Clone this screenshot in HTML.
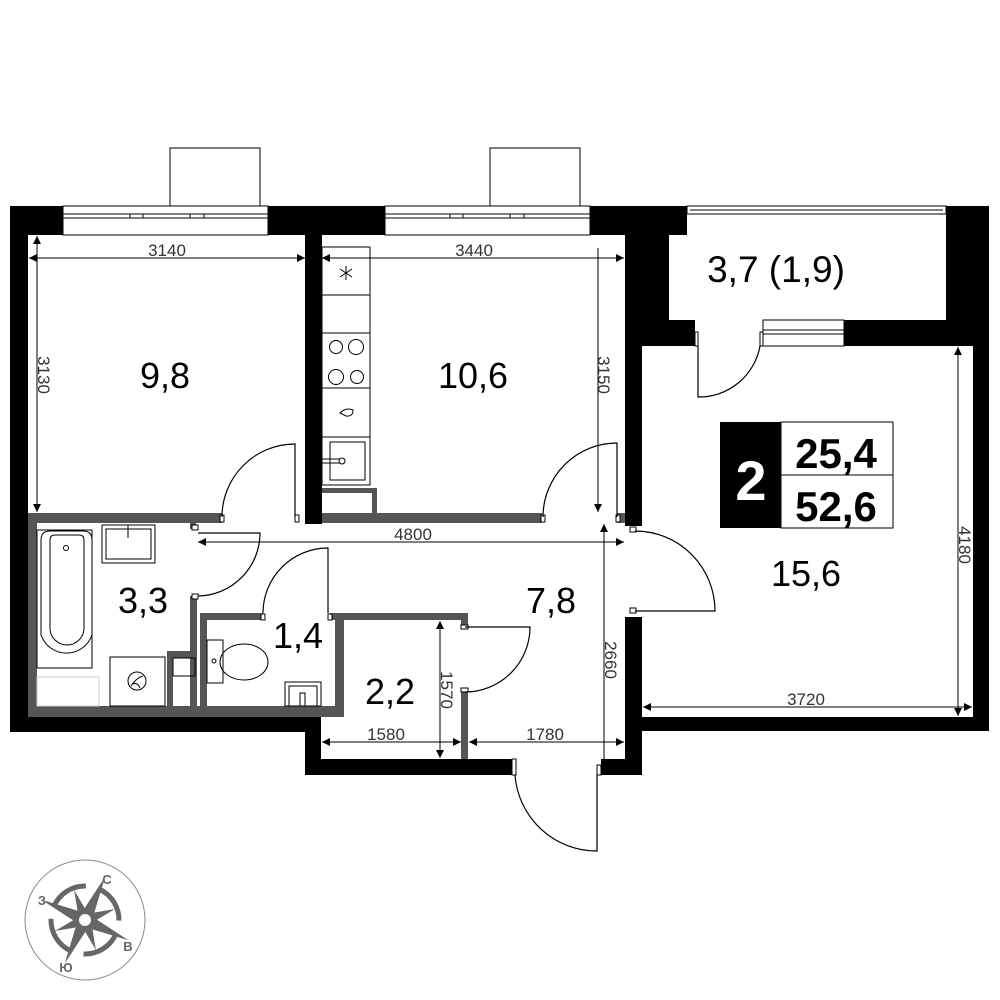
<!DOCTYPE html>
<html><head><meta charset="utf-8"><style>
html,body{margin:0;padding:0;background:#fff}
svg{display:block}
text{font-family:"Liberation Sans",sans-serif}
</style></head><body>
<svg width="1000" height="1000" viewBox="0 0 1000 1000" xmlns="http://www.w3.org/2000/svg">
<defs>
<marker id="a" viewBox="0 0 10 10" refX="10" refY="5" markerWidth="13" markerHeight="8" orient="auto-start-reverse" markerUnits="userSpaceOnUse"><path d="M0,0 L10,5 L0,10 z" fill="#000"/></marker>
</defs>
<g fill="none" stroke="#000" stroke-width="1">
<rect x="170" y="148" width="90" height="58"/>
<rect x="490" y="148" width="90" height="58"/>
<rect x="63" y="206" width="205" height="29"/>
<line x1="63" y1="214" x2="268" y2="214"/><line x1="63" y1="218" x2="268" y2="218"/>
<line x1="130" y1="214" x2="130" y2="218"/><line x1="143" y1="214" x2="143" y2="218"/><line x1="190" y1="214" x2="190" y2="218"/><line x1="204" y1="214" x2="204" y2="218"/>
<rect x="385" y="206" width="205" height="29"/>
<line x1="385" y1="214" x2="590" y2="214"/><line x1="385" y1="218" x2="590" y2="218"/>
<line x1="450" y1="214" x2="450" y2="218"/><line x1="463" y1="214" x2="463" y2="218"/><line x1="510" y1="214" x2="510" y2="218"/><line x1="524" y1="214" x2="524" y2="218"/>
<rect x="687" y="206" width="259" height="8"/>
<line x1="690" y1="210" x2="943" y2="210"/>
<rect x="763" y="320" width="81" height="26"/>
<line x1="763" y1="330" x2="844" y2="330"/><line x1="763" y1="334" x2="844" y2="334"/>
</g>
<g fill="#000">
<rect x="10" y="206" width="53" height="29"/>
<rect x="10" y="206" width="18" height="526"/>
<rect x="268" y="206" width="117" height="29"/>
<rect x="305" y="206" width="17" height="318"/>
<rect x="590" y="206" width="97" height="29"/>
<rect x="625" y="206" width="44" height="114"/>
<rect x="625" y="320" width="70" height="26"/>
<rect x="625" y="320" width="17" height="206"/>
<rect x="844" y="320" width="145" height="26"/>
<rect x="946" y="206" width="43" height="140"/>
<rect x="973" y="206" width="16" height="525"/>
<rect x="625" y="717" width="364" height="14"/>
<rect x="625" y="617" width="17" height="158"/>
<rect x="601" y="759" width="41" height="16"/>
<rect x="305" y="759" width="207" height="16"/>
<rect x="305" y="717" width="16" height="58"/>
<rect x="10" y="717" width="311" height="15"/>
</g>
<g fill="#555">
<rect x="28" y="513" width="194" height="10"/>
<rect x="190" y="513" width="6" height="16"/>
<rect x="322" y="513" width="220" height="10"/>
<path d="M322 488 H377 V513 H372 V493 H322 Z"/>
<rect x="617" y="513" width="8" height="10"/>
<rect x="28" y="706" width="316" height="11"/>
<rect x="28" y="513" width="9" height="204"/>
<rect x="190" y="596" width="7" height="110"/>
<rect x="167" y="651" width="30" height="7"/>
<rect x="167" y="651" width="6" height="55"/>
<rect x="200" y="614" width="7" height="92"/>
<rect x="200" y="613" width="63" height="7"/>
<rect x="330" y="613" width="137" height="7"/>
<rect x="335" y="613" width="9" height="104"/>
<rect x="461" y="613" width="7" height="14"/>
<rect x="461" y="691" width="7" height="68"/>
</g>
<g fill="#fff" stroke="#000" stroke-width="1">
<rect x="220" y="515" width="4" height="7"/><rect x="295" y="515" width="4" height="7"/>
<rect x="541" y="515" width="4" height="7"/><rect x="616" y="515" width="4" height="7"/>
<rect x="192" y="525" width="6" height="5"/><rect x="192" y="594" width="6" height="5"/>
<rect x="261" y="614" width="4" height="6"/><rect x="328" y="614" width="4" height="6"/>
<rect x="461" y="625" width="7" height="4"/><rect x="461" y="688" width="7" height="4"/>
<rect x="512" y="759" width="4" height="16"/><rect x="597" y="765" width="4" height="10"/>
<rect x="630" y="527" width="6" height="5"/><rect x="630" y="608" width="6" height="5"/>
<rect x="695" y="332" width="3" height="14"/><rect x="760" y="332" width="3" height="14"/>
</g>
<g fill="none" stroke="#000" stroke-width="1.2">
<path d="M222 517 A73 73 0 0 1 295 444 V517"/>
<path d="M543 517 A74 74 0 0 1 617 443 V517"/>
<path d="M198 596 A63 63 0 0 0 260 533 H198"/>
<path d="M263 613 A65 65 0 0 1 328 548 V613"/>
<path d="M465 627 H530 A65 65 0 0 1 465 692"/>
<path d="M515 775 A82 82 0 0 0 597 851 V775"/>
<path d="M635 531 A80 80 0 0 1 715 611 H635"/>
<path d="M698 346 V397 A62 62 0 0 0 760 346"/>
</g>
<g fill="none" stroke="#000" stroke-width="1">
<rect x="322" y="247" width="48" height="238"/>
<line x1="322" y1="295" x2="370" y2="295"/><line x1="322" y1="333" x2="370" y2="333"/>
<line x1="322" y1="388" x2="370" y2="388"/><line x1="322" y1="437" x2="370" y2="437"/>
<circle cx="336" cy="347" r="6.5"/><circle cx="356" cy="347" r="7.5"/>
<circle cx="336" cy="377" r="7.5"/><circle cx="357" cy="377" r="6.5"/>
<path d="M340 413 Q346 407 353 410 Q353 417 346 416 Z"/>
<rect x="330" y="442" width="35" height="38"/>
<line x1="322" y1="459" x2="340" y2="459"/><line x1="322" y1="463" x2="340" y2="463"/>
<circle cx="342" cy="461" r="3"/>
<path d="M346 266 V280 M340 269 L352 277 M352 269 L340 277"/>
</g>
<g fill="none" stroke="#000" stroke-width="1">
<rect x="37" y="530" width="55" height="138"/>
<path d="M41 540 Q41 531 50 531 H83 Q92 531 92 540 V635 A27 27 0 0 1 41 635 Z"/>
<path d="M50 540 Q50 535 55 535 H79 Q84 535 84 540 V628 A17 17 0 0 1 50 628 Z"/>
<circle cx="66" cy="548" r="2.5"/>
<rect x="102" y="525" width="53" height="38"/>
<rect x="106" y="529" width="45" height="30"/>
<line x1="128" y1="525" x2="128" y2="538"/>
<rect x="110" y="657" width="55" height="49"/>
<circle cx="137" cy="681" r="9"/>
<path d="M131 686 Q136 678 143 676 M132 684 Q138 682 140 688"/>
<rect x="173" y="658" width="22" height="18"/>
<rect x="207" y="640" width="16" height="43"/>
<circle cx="214" cy="661" r="2"/>
<ellipse cx="244" cy="662" rx="24" ry="18"/>
<rect x="285" y="682" width="36" height="24"/>
<rect x="289" y="686" width="28" height="20"/>
<rect x="300" y="693" width="5" height="13"/>
</g>
<rect x="37" y="677" width="62" height="29" fill="none" stroke="#ccc" stroke-width="1"/>
<g stroke="#000" stroke-width="1" fill="none">
<line x1="29" y1="258" x2="305" y2="258" marker-start="url(#a)" marker-end="url(#a)"/>
<line x1="37" y1="236" x2="37" y2="512" marker-start="url(#a)" marker-end="url(#a)"/>
<line x1="322" y1="258" x2="624" y2="258" marker-start="url(#a)" marker-end="url(#a)"/>
<line x1="598" y1="248" x2="598" y2="512" marker-end="url(#a)"/>
<line x1="198" y1="542" x2="624" y2="542" marker-start="url(#a)" marker-end="url(#a)"/>
<line x1="604" y1="524" x2="604" y2="774" marker-start="url(#a)" marker-end="url(#a)"/>
<line x1="322" y1="742" x2="461" y2="742" marker-start="url(#a)" marker-end="url(#a)"/>
<line x1="440" y1="621" x2="440" y2="758" marker-start="url(#a)" marker-end="url(#a)"/>
<line x1="469" y1="742" x2="624" y2="742" marker-start="url(#a)" marker-end="url(#a)"/>
<line x1="643" y1="707" x2="972" y2="707" marker-start="url(#a)" marker-end="url(#a)"/>
<line x1="958" y1="347" x2="958" y2="716" marker-start="url(#a)" marker-end="url(#a)"/>
</g>
<g fill="#333" font-size="17" text-anchor="middle">
<text x="167" y="256">3140</text>
<text x="474" y="256">3440</text>
<text x="413" y="540">4800</text>
<text x="386" y="740">1580</text>
<text x="545" y="740">1780</text>
<text x="806" y="705">3720</text>
<text transform="translate(38,375) rotate(90)">3130</text>
<text transform="translate(598,375) rotate(90)">3150</text>
<text transform="translate(605,660) rotate(90)">2660</text>
<text transform="translate(441,690) rotate(90)">1570</text>
<text transform="translate(959,545) rotate(90)">4180</text>
</g>
<g fill="#000" font-size="36" text-anchor="middle">
<text x="165" y="388">9,8</text>
<text x="473" y="388">10,6</text>
<text x="776" y="282" font-size="37">3,7 (1,9)</text>
<text x="806" y="586">15,6</text>
<text x="143" y="613">3,3</text>
<text x="298" y="648">1,4</text>
<text x="390" y="704">2,2</text>
<text x="551" y="613">7,8</text>
</g>
<rect x="720" y="422" width="61" height="106" fill="#000"/>
<rect x="781" y="422" width="112" height="53" fill="#fff" stroke="#000"/>
<rect x="781" y="475" width="112" height="53" fill="#fff" stroke="#000"/>
<text x="751" y="500" font-size="56" font-weight="bold" fill="#fff" text-anchor="middle">2</text>
<text x="836" y="468" font-size="42" font-weight="bold" text-anchor="middle">25,4</text>
<text x="836" y="521" font-size="42" font-weight="bold" text-anchor="middle">52,6</text>
<circle cx="85" cy="920" r="60" fill="none" stroke="#888" stroke-width="1"/>
<g transform="translate(85,920) rotate(25)" fill="#666">
<path d="M0,-48 L6,-6 L0,0 L-6,-6 Z M0,48 L6,6 L0,0 L-6,6 Z M-48,0 L-6,-6 L0,0 L-6,6 Z M48,0 L6,-6 L0,0 L6,6 Z"/>
<g transform="rotate(45)"><path d="M0,-32 L5,-5 L0,0 L-5,-5 Z M0,32 L5,5 L0,0 L-5,5 Z M-32,0 L-5,-5 L0,0 L-5,5 Z M32,0 L5,-5 L0,0 L5,5 Z"/></g>
<circle r="34" fill="none" stroke="#666" stroke-width="5" stroke-dasharray="40 13"/>
<circle r="8" fill="#fff" stroke="#666" stroke-width="4"/>
</g>
<g fill="#666" font-size="13" font-weight="bold" text-anchor="middle">
<text x="107" y="884">С</text><text x="42" y="905">З</text>
<text x="128" y="951">В</text><text x="66" y="972">Ю</text>
</g>
</svg>
</body></html>
